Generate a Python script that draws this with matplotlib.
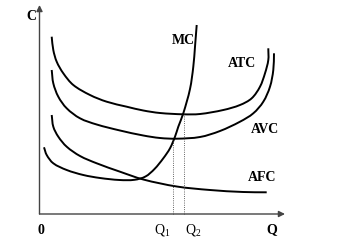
import matplotlib
matplotlib.use("Agg")
import matplotlib.pyplot as plt
from matplotlib.path import Path
from matplotlib.patches import PathPatch
import numpy as np

plt.rcParams['font.family'] = ['Liberation Serif', 'DejaVu Serif']
plt.rcParams['mathtext.fontset'] = 'custom'
plt.rcParams['mathtext.rm'] = 'Liberation Serif'
plt.rcParams['mathtext.it'] = 'Liberation Serif'

# Curve points (Q, C) in chart units
atc_q = [12.2, 13.8, 17.2, 23.8, 33.8, 50.5, 67.2, 87.2, 103.8, 120.5, 143.8, 160.5, 183.8, 200.5, 212.2, 220.5, 225.5, 228.8, 228.8]
atc_c = [177.3, 164, 152.3, 140.7, 129, 119, 112.3, 107.3, 103.5, 101, 99.7, 100, 104, 109, 115.7, 127.3, 140.7, 154, 165.7]

avc_q = [12.2, 13.8, 18.8, 27.2, 40.5, 57.2, 80.5, 103.8, 120.5, 137.2, 160.5, 180.5, 200.5, 213.8, 223.8, 230.5, 233.8, 234.5]
avc_c = [144, 130.7, 117.3, 105.7, 95.7, 89.5, 83.5, 78.5, 76, 75.3, 77, 83, 92.3, 100.7, 112.3, 127.3, 144, 160.7]

afc_q = [12.2, 13.8, 18.8, 27.2, 40.5, 57.2, 80.5, 103.8, 137.2, 170.5, 203.8, 227.2]
afc_c = [99, 87.3, 77.3, 67.3, 58, 50.7, 42.3, 34.5, 27.5, 24, 22, 21.7]

mc_q = [4.5, 7.2, 13.8, 27.2, 43.8, 60.5, 80, 95, 106, 115, 123.8, 130.5, 135.5, 138.8, 143.8, 150.5, 153.8, 155.5, 157.2]
mc_c = [66.7, 59, 50.7, 44, 39, 36, 34, 34.2, 37.5, 45, 55.7, 65.7, 77.3, 87.3, 100.7, 125, 147.3, 167.3, 189]

q1, q1_c = 133.8, 75.3
q2, q2_c = 144.5, 99.7

labels = {'MC': (143.5, 173.3), 'ATC': (202.2, 150.7), 'AVC': (225.5, 84.7), 'AFC': (222.2, 36.3)}

fig = plt.figure(figsize=(3.37, 2.49), dpi=100)
ax = fig.add_axes([0, 0, 1, 1])
ax.set_xlim(-39.5, 297.5)
ax.set_ylim(-35, 214)
ax.axis('off')


def smooth(q, c):
    p = np.column_stack([q, c]).astype(float)
    d = np.hypot(*np.diff(p, axis=0).T)
    t = np.concatenate([[0], np.cumsum(d)])
    n = len(p)
    m = np.zeros_like(p)
    m[0] = (p[1] - p[0]) / (t[1] - t[0])
    m[-1] = (p[-1] - p[-2]) / (t[-1] - t[-2])
    for i in range(1, n - 1):
        m[i] = (p[i + 1] - p[i - 1]) / (t[i + 1] - t[i - 1])
    verts = [p[0]]
    codes = [Path.MOVETO]
    for i in range(n - 1):
        h = t[i + 1] - t[i]
        verts += [p[i] + m[i] * h / 3, p[i + 1] - m[i + 1] * h / 3, p[i + 1]]
        codes += [Path.CURVE4] * 3
    return Path(verts, codes)


for q, c in [(atc_q, atc_c), (avc_q, avc_c), (afc_q, afc_c), (mc_q, mc_c)]:
    ax.add_patch(PathPatch(smooth(q, c), fill=False, lw=1.4, ec='black', capstyle='butt'))

# axes with arrows
ax.annotate('', xy=(245.5, 0), xytext=(0, 0),
            arrowprops=dict(arrowstyle='-|>', lw=1.0, color='#444444', mutation_scale=9, shrinkA=0, shrinkB=0))
ax.annotate('', xy=(0, 209), xytext=(0, 0),
            arrowprops=dict(arrowstyle='-|>', lw=1.0, color='#444444', mutation_scale=9, shrinkA=0, shrinkB=0))

# dotted guide lines
ax.plot([q1, q1], [0, q1_c], ls=':', lw=0.6, color='#333333')
ax.plot([q2, q2], [0, q2_c], ls=':', lw=0.6, color='#333333')

fs = 10
for name, (x, y) in labels.items():
    ax.text(x, y, name, fontsize=fs, fontweight='bold', ha='center', va='center')
ax.text(-8.5, 197.3, 'C', fontsize=fs, fontweight='bold', ha='center', va='center')
ax.text(1.2, -16, '0', fontsize=fs, fontweight='bold', ha='center', va='center')
ax.text(232.2, -16, 'Q', fontsize=fs, fontweight='bold', ha='center', va='center')
ax.text(q1 - 11, -16, r'Q$_{1}$', fontsize=fs, ha='center', va='center')
ax.text(q2 + 9.3, -16, r'Q$_{2}$', fontsize=fs, ha='center', va='center')

fig.savefig('out.png', dpi=100)
